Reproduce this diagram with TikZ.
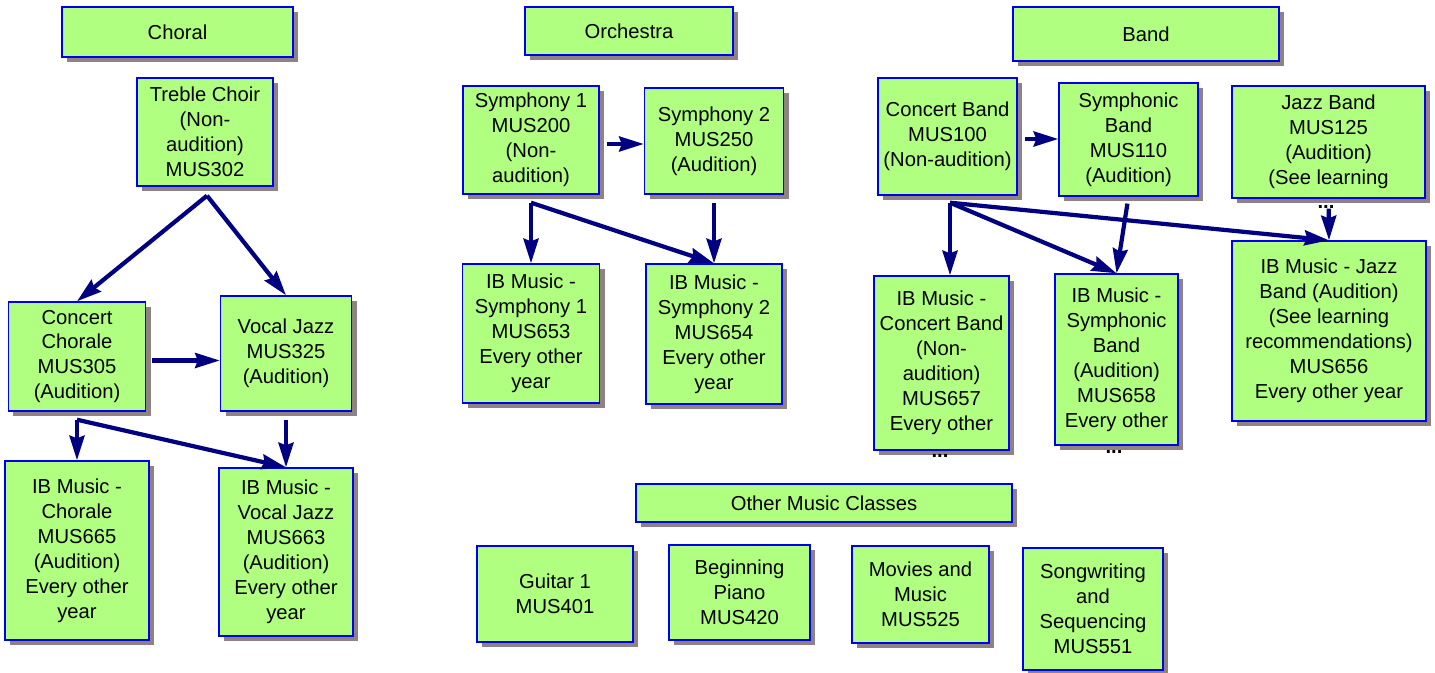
\documentclass[tikz,border=0pt]{standalone}
\usepackage{fontspec}
\setmainfont{Liberation Sans}
\usepackage{tikz}
\usetikzlibrary{arrows.meta, shadows}
\definecolor{boxgreen}{RGB}{176,255,128}
\definecolor{boxblue}{RGB}{0,0,240}
\definecolor{shadowgrey}{RGB}{142,130,130}
\definecolor{arrownavy}{RGB}{0,0,128}
\tikzstyle{course} = [rectangle, draw=boxblue, line width=0.8pt, fill=boxgreen, text centered, align=center, inner sep=1pt, font=\fontsize{11.5}{14.2}\selectfont, drop shadow={shadow xshift=0.1cm, shadow yshift=-0.1cm, fill=shadowgrey, opacity=1}]
\tikzstyle{arrow} = [line width=2.4pt, draw=arrownavy, ->, >={Stealth[length=14pt, width=8.5pt, inset=1.5pt]}]
\tikzstyle{more} = [font=\fontsize{11.5}{14.2}\selectfont\bfseries, inner sep=0pt]

\begin{document}
\begin{tikzpicture}
		\useasboundingbox (0,0) rectangle (28.7,-13.46);
		% Choral
		\node (choral) [course, minimum width=4.62cm, minimum height=1.00cm] at (3.55,-0.64) {Choral};
		\node (treble) [course, minimum width=2.72cm, minimum height=2.16cm] at (4.10,-2.64) {Treble Choir\\(Non-\\audition)\\MUS302};
		\node (chorale) [course, minimum width=2.74cm, minimum height=2.18cm] at (1.54,-7.13) {Concert\\Chorale\\MUS305\\(Audition)};
		\node (vocaljazz) [course, minimum width=2.62cm, minimum height=2.30cm] at (5.72,-7.07) {Vocal Jazz\\MUS325\\(Audition)};
		\node (ibchorale) [course, minimum width=2.88cm, minimum height=3.58cm] at (1.54,-11.01) {IB Music -\\Chorale\\MUS665\\(Audition)\\Every other\\year};
		\node (ibvocal) [course, minimum width=2.68cm, minimum height=3.36cm] at (5.72,-11.04) {IB Music -\\Vocal Jazz\\MUS663\\(Audition)\\Every other\\year};
		% Orchestra
		\node (orchestra) [course, minimum width=4.16cm, minimum height=0.96cm] at (12.58,-0.62) {Orchestra};
		\node (sym1) [course, minimum width=2.72cm, minimum height=2.16cm] at (10.62,-2.80) {Symphony 1\\MUS200\\(Non-\\audition)};
		\node (sym2) [course, minimum width=2.78cm, minimum height=2.12cm] at (14.28,-2.82) {Symphony 2\\MUS250\\(Audition)};
		\node (ibsym1) [course, minimum width=2.74cm, minimum height=2.78cm] at (10.62,-6.67) {IB Music -\\Symphony 1\\MUS653\\Every other\\year};
		\node (ibsym2) [course, minimum width=2.72cm, minimum height=2.80cm] at (14.28,-6.68) {IB Music -\\Symphony 2\\MUS654\\Every other\\year};
		% Band
		\node (band) [course, minimum width=5.32cm, minimum height=1.08cm] at (22.92,-0.68) {Band};
		\node (concertband) [course, minimum width=2.78cm, minimum height=2.34cm] at (18.95,-2.73) {Concert Band\\MUS100\\(Non-audition)};
		\node (symband) [course, minimum width=2.78cm, minimum height=2.26cm] at (22.57,-2.79) {Symphonic\\Band\\MUS110\\(Audition)};
		\node (jazzband) [course, minimum width=3.86cm, minimum height=2.24cm] at (26.57,-2.84) {Jazz Band\\MUS125\\(Audition)\\(See learning};
		\node (ibconcert) [course, minimum width=2.70cm, minimum height=3.48cm] at (18.83,-7.26) {IB Music -\\Concert Band\\(Non-\\audition)\\MUS657\\Every other};
		\node (ibsymband) [course, minimum width=2.46cm, minimum height=3.42cm] at (22.33,-7.19) {IB Music -\\Symphonic\\Band\\(Audition)\\MUS658\\Every other};
		\node (ibjazz) [course, minimum width=3.88cm, minimum height=3.60cm] at (26.58,-6.62) {IB Music - Jazz\\Band (Audition)\\(See learning\\recommendations)\\MUS656\\Every other year};
		\node (more1) [more] at (18.80,-9.12) {...};
		\node (more2) [more] at (22.28,-9.04) {...};
		\node (more3) [more] at (26.52,-4.14) {...};
		% Other
		\node (other) [course, minimum width=7.52cm, minimum height=0.76cm] at (16.48,-10.06) {Other Music Classes};
		\node (guitar) [course, minimum width=3.12cm, minimum height=1.92cm] at (11.10,-11.88) {Guitar 1\\MUS401};
		\node (piano) [course, minimum width=2.82cm, minimum height=1.90cm] at (14.79,-11.85) {Beginning\\Piano\\MUS420};
		\node (movies) [course, minimum width=2.74cm, minimum height=1.94cm] at (18.41,-11.89) {Movies and\\Music\\MUS525};
		\node (songs) [course, minimum width=2.80cm, minimum height=2.44cm] at (21.86,-12.18) {Songwriting\\and\\Sequencing\\MUS551};
		% start points
		\coordinate (trebleout) at ([xshift=0.04cm, yshift=-0.18cm]treble.south);
		\coordinate (choraleout) at ([yshift=-0.16cm]chorale.south);
		\coordinate (sym1out) at ([yshift=-0.16cm]sym1.south);
		\coordinate (concertout) at ([xshift=0.05cm, yshift=-0.14cm]concertband.south);
		\draw [arrow] (trebleout) -- (chorale.north);
		\draw [arrow] (trebleout) -- (vocaljazz.north);
		\draw [arrow, shorten <=0.12cm] ([yshift=-0.08cm]chorale.east) -- ([yshift=-0.08cm]chorale.east -| vocaljazz.west);
		\draw [arrow] (choraleout) -- (ibchorale.north);
		\draw [arrow] (choraleout) -- (ibvocal.north);
		\draw [arrow, shorten <=0.16cm] (vocaljazz.south) -- (ibvocal.north);
		\draw [arrow, shorten <=0.14cm] ([yshift=-0.08cm]sym1.east) -- ([yshift=-0.08cm]sym1.east -| sym2.west);
		\draw [arrow] (sym1out) -- (ibsym1.north);
		\draw [arrow] (sym1out) -- (ibsym2.north);
		\draw [arrow, shorten <=0.16cm] (sym2.south) -- (ibsym2.north);
		\draw [arrow, shorten <=0.14cm] ([yshift=-0.05cm]concertband.east) -- ([yshift=-0.05cm]concertband.east -| symband.west);
		\draw [arrow] (concertout) -- (concertout |- ibconcert.north);
		\draw [arrow] (concertout) -- (ibsymband.north);
		\draw [arrow] (concertout) -- (ibjazz.north);
		\draw [arrow, shorten <=0.14cm] (symband.south) -- (ibsymband.north);
		\draw [arrow, shorten <=0.2cm] (jazzband.south) -- (ibjazz.north);
		\end{tikzpicture}
\end{document}
